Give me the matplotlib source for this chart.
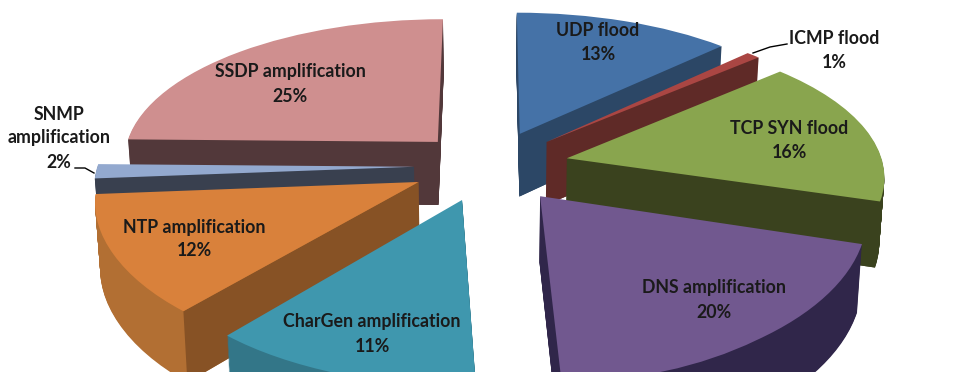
import numpy as np
import matplotlib
matplotlib.use('Agg')
import matplotlib.pyplot as plt
from matplotlib.patches import Polygon
from matplotlib.transforms import Transform

plt.rcParams['font.family'] = ['Lato', 'DejaVu Sans']

names = ['UDP flood', 'ICMP flood', 'TCP SYN flood', 'DNS amplification',
         'CharGen amplification', 'NTP amplification', 'SNMP\namplification', 'SSDP amplification']
# labels are whole percents, slice sizes read a bit finer from the angles
values = [12.6, 0.8, 16.4, 20.2, 11.3, 12.4, 1.6, 24.7]
explode = [0.25, 0.25, 0.25, 0.26, 0.25, 0.25, 0.24, 0.24]

top_colors = ['#4572a7', '#aa4643', '#89a54e', '#71588f', '#3f97ae', '#d9813b', '#93a9cf', '#cf8f8f']
rim_colors = ['#2c4766', '#5f2a27', '#3a421e', '#30264a', '#337688', '#b26f33', '#39404f', '#52383a']
cut_colors = ['#2c4766', '#5f2a27', '#3a421e', '#30264a', '#2f6f81', '#875225', '#39404f', '#52383a']
draw_rank = [4, 5, 6, 7, 3, 2, 1, 0]
wall_height = [1, 1, 1, 1, 1, 1, 0.55, 1]

label_pos = [(598, 42), (834, 50), (789, 141), (714, 300), (372, 334), (194, 239), (59, 138), (290, 84)]

DEPTH = 65


class Tilt(Transform):
    # tilted view of the pie, goes from pie units to pixels
    input_dims = 2
    output_dims = 2
    is_separable = False
    has_inverse = False

    def __init__(self, z=0.0):
        super().__init__()
        self.z = z

    def transform_non_affine(self, values):
        values = np.asarray(values, dtype=float)
        u = values[:, 0]
        v = values[:, 1]
        w = 1 + 0.113 * v
        near = np.minimum(v, 0) ** 2
        x = 490 + 320 * u / w * (1 - 0.013 * self.z) + 16 * near * np.clip(1 - 1.5 * np.abs(u), 0, 1)
        y = -1100 + (1280 + DEPTH * self.z) / w + 15 * near
        return np.column_stack([x, y])


fig = plt.figure(figsize=(9.8, 3.72), dpi=100)
ax = fig.add_axes([0, 0, 1, 1])


def draw_pie(colors):
    wedges = ax.pie(values, explode=explode, startangle=90, counterclock=False, colors=colors,
                    center=(0, 0.1), wedgeprops={'linewidth': 0})[0]
    return wedges


# side wall, stacked from the bottom up
for layer in range(DEPTH, 0, -1):
    z = layer / DEPTH
    for wedge, rank, height in zip(draw_pie(rim_colors), draw_rank, wall_height):
        if z > height:
            wedge.set_visible(False)
        wedge.set_transform(Tilt(z) + ax.transData)
        wedge.set_zorder(rank * 10 + 1 - z * 0.9)

# cut faces and top
for wedge, rank, cut, height in zip(draw_pie(top_colors), draw_rank, cut_colors, wall_height):
    wedge.set_transform(Tilt(0) + ax.transData)
    wedge.set_zorder(rank * 10 + 5)
    cx, cy = wedge.center
    for theta, normal in ((wedge.theta1, wedge.theta1 - 90), (wedge.theta2, wedge.theta2 + 90)):
        # faces turned away from the viewer stay hidden
        if np.sin(np.radians(normal)) > 0.01:
            continue
        ex = cx + np.cos(np.radians(theta))
        ey = cy + np.sin(np.radians(theta))
        front = Tilt(0).transform(np.array([[cx, cy], [ex, ey]]))
        back = Tilt(height).transform(np.array([[ex, ey], [cx, cy]]))
        ax.add_patch(Polygon(np.vstack([front, back]), closed=True, facecolor=cut,
                             edgecolor='none', zorder=rank * 10 + 3))

ax.set_aspect('auto')
ax.set_xlim(0, 980)
ax.set_ylim(372, 0)
ax.axis('off')

for name, value, pos in zip(names, values, label_pos):
    ax.text(pos[0], pos[1], name + '\n' + str(round(value)) + '%', ha='center', va='center', fontsize=12.8,
            fontweight='bold', color='#1a1a1a', linespacing=1.5, zorder=200)

# leader lines for the two small slices
ax.plot([753, 770, 787], [53, 47, 44], color='black', lw=1, zorder=150)
ax.plot([75, 85, 94], [168, 168, 173], color='black', lw=1, zorder=150)

fig.savefig('out.png', dpi=100)
